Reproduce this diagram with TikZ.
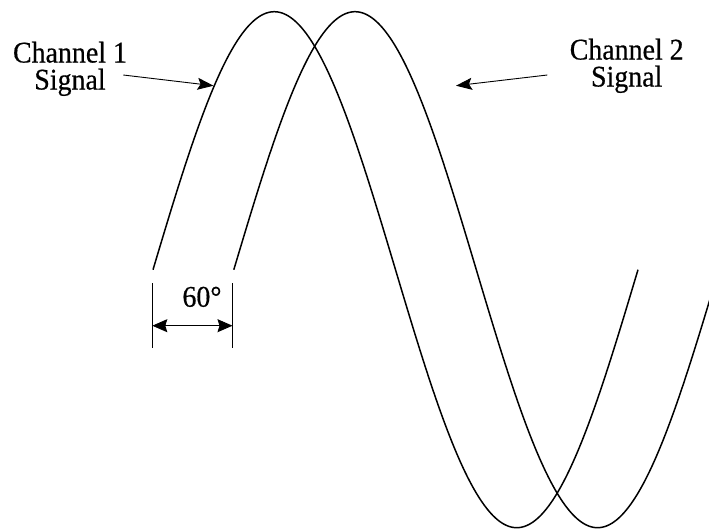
\documentclass[tikz,border=0pt]{standalone}
\usepackage{fontspec}
\setmainfont{Liberation Serif}[FakeStretch=0.93,FakeBold=0.5]
\usetikzlibrary{arrows.meta}
\begin{document}
\begin{tikzpicture}[x=1pt,y=-1pt,
  wave/.style={line width=1.5pt,line join=round},
  pointer/.style={line width=0.9pt,-{Stealth[length=16pt,width=12pt,inset=3pt]}},
  dimline/.style={line width=0.8pt},
  dimarrow/.style={line width=0.9pt,{Stealth[length=15pt,width=13pt,inset=2pt]}-{Stealth[length=15pt,width=13pt,inset=2pt]}},
  lbl/.style={font=\fontsize{30}{27}\selectfont,anchor=base,inner sep=0pt,align=center}]
\useasboundingbox (0,0) rectangle (709,531);
\begin{scope}
  \clip (0,0) rectangle (709,531);
  % Channel 1 signal
  \draw[wave] plot[domain=0:360,samples=241,smooth] ({153+\x*1.34722},{269.7-258*sin(\x)});
  % Channel 2 signal (60 degrees later)
  \draw[wave] plot[domain=0:362,samples=241,smooth] ({233.8+\x*1.34722},{269.7-258*sin(\x)});
\end{scope}
% labels (base anchor = baseline of the last line)
\node[lbl] (c1) at (70,89.5) {Channel 1\\Signal};
\node[lbl] (c2) at (626.7,86.5) {Channel 2\\Signal};
\coordinate (p1s) at (123.3,75);
\coordinate (p1e) at (213.5,85.7);
\coordinate (p2s) at (547.3,75);
\coordinate (p2e) at (456,85.7);
\draw[pointer] (p1s) -- (p1e);
\draw[pointer] (p2s) -- (p2e);
% 60 degree dimension
\coordinate (t1a) at (152.3,283);
\coordinate (t1b) at (152.3,348);
\coordinate (t2a) at (232.5,283);
\coordinate (t2b) at (232.5,348);
\draw[dimline] (t1a) -- (t1b);
\draw[dimline] (t2a) -- (t2b);
\coordinate (d1) at (152.3,325.7);
\coordinate (d2) at (232.5,325.7);
\draw[dimarrow] (d1) -- (d2);
\node[lbl] (deg) at (202,306.7) {60°};
\end{tikzpicture}
\end{document}
